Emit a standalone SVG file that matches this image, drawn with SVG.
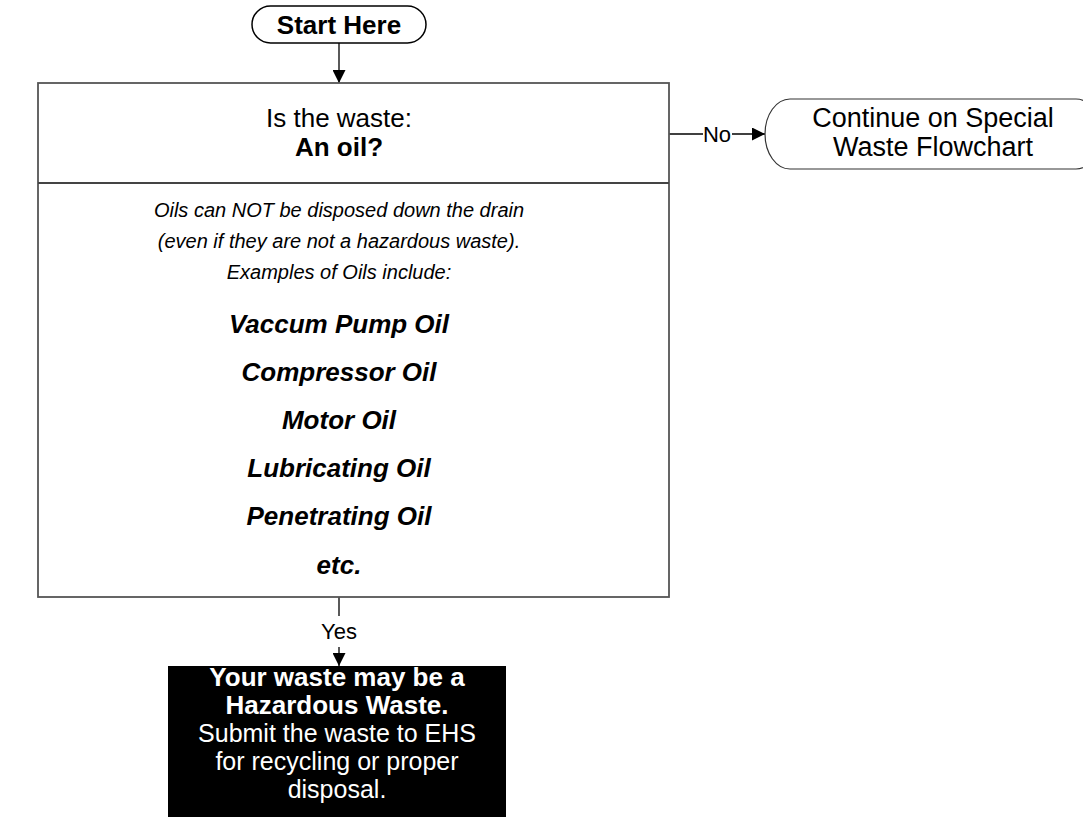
<svg xmlns="http://www.w3.org/2000/svg" width="1083" height="817" viewBox="0 0 1083 817">
  <defs>
    <marker id="arrow" viewBox="0 0 10 10" refX="10" refY="5" markerWidth="13" markerHeight="13" markerUnits="userSpaceOnUse" orient="auto">
      <path d="M0,0 L10,5 L0,10 Z" fill="#000"/>
    </marker>
    <style>
      text { font-family: "Liberation Sans", Arial, sans-serif; fill: #000; text-anchor: middle; }
      .b { font-weight: bold; }
      .i { font-style: italic; }
      .lbl { font-size: 22px; }
      .title { font-size: 26px; }
      .note { font-size: 20px; font-style: italic; }
      .item { font-size: 26px; font-weight: bold; font-style: italic; }
      .white { fill: #fff; }
      .conn { fill: none; stroke: #000; stroke-width: 1.3; }
    </style>
  </defs>
  <rect width="1083" height="817" fill="#fff"/>

  <!-- connectors -->
  <g id="connectors">
    <line class="conn" x1="339" y1="43" x2="339" y2="83" marker-end="url(#arrow)"/>
    <line class="conn" x1="669" y1="134" x2="703" y2="134"/>
    <line class="conn" x1="732" y1="134" x2="765" y2="134" marker-end="url(#arrow)"/>
    <text class="lbl" x="717" y="142">No</text>
    <line class="conn" stroke="#555" x1="339" y1="597" x2="339" y2="616"/>
    <text class="lbl" x="339" y="639">Yes</text>
    <line class="conn" x1="339" y1="647" x2="339" y2="666" marker-end="url(#arrow)"/>
  </g>

  <!-- start terminator -->
  <g id="start">
    <rect x="252" y="6" width="174" height="37" rx="18.5" ry="18.5" fill="#fff" stroke="#000" stroke-width="1.5"/>
    <text class="title b" x="339" y="34">Start Here</text>
  </g>

  <!-- decision box -->
  <g id="oil-question">
    <rect x="38" y="83" width="631" height="514" fill="#fff" stroke="#555" stroke-width="1.8"/>
    <line x1="38" y1="183" x2="669" y2="183" stroke="#444" stroke-width="1.8"/>
    <text class="title" x="339" y="127">Is the waste:</text>
    <text class="title b" x="339" y="156">An oil?</text>
    <text class="note" x="339" y="217">Oils can NOT be disposed down the drain</text>
    <text class="note" x="339" y="248">(even if they are not a hazardous waste).</text>
    <text class="note" x="339" y="279">Examples of Oils include:</text>
    <text class="item" x="339" y="333">Vaccum Pump Oil</text>
    <text class="item" x="339" y="381">Compressor Oil</text>
    <text class="item" x="339" y="429">Motor Oil</text>
    <text class="item" x="339" y="477">Lubricating Oil</text>
    <text class="item" x="339" y="525">Penetrating Oil</text>
    <text class="item" x="339" y="574">etc.</text>
  </g>

  <!-- continue terminator -->
  <g id="continue">
    <path d="M790,99 L1076,99 A25,35 0 0 1 1076,169 L790,169 A25,35 0 0 1 790,99 Z" fill="#fff" stroke="#333" stroke-width="1.2"/>
    <text font-size="27" x="933" y="127">Continue on Special</text>
    <text font-size="27" x="933" y="156">Waste Flowchart</text>
  </g>

  <!-- result box -->
  <g id="hazardous">
    <rect x="168" y="666" width="338" height="151" fill="#000"/>
    <text class="b white" font-size="26" x="337" y="686">Your waste may be a</text>
    <text class="b white" font-size="26" x="337" y="714">Hazardous Waste.</text>
    <text class="white" font-size="25" x="337" y="742">Submit the waste to EHS</text>
    <text class="white" font-size="25" x="337" y="770">for recycling or proper</text>
    <text class="white" font-size="25" x="337" y="798">disposal.</text>
  </g>
</svg>
